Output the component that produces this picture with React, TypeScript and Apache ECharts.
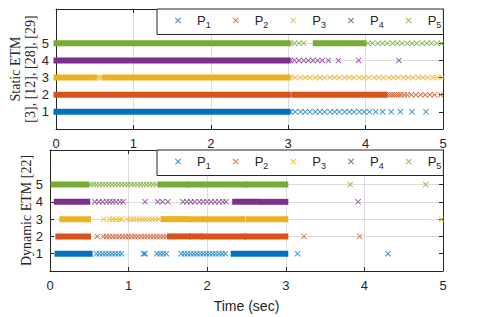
import React, { useEffect, useRef } from "react";
import * as echarts from "echarts";

// ---- Data ----
const agentNames = ["P1", "P2", "P3", "P4", "P5"];
const agentColors = ["#0072BD", "#D95319", "#EDB120", "#7E2F8E", "#77AC30"];
const timeTicks = [0, 1, 2, 3, 4, 5];
const agentTicks = [1, 2, 3, 4, 5];

// Static ETM: dense trigger bursts [start, end] and individual trigger instants (sec)
const staticP1Bands = [[0, 3.0]];
const staticP1Marks = [3.03, 3.09, 3.16, 3.22, 3.28, 3.35, 3.41, 3.47, 3.54, 3.6, 3.66, 3.73, 3.79, 3.85, 3.92, 3.98, 4.05, 4.13, 4.22, 4.33, 4.45, 4.6, 4.78];
const staticP2Bands = [[0, 3.0], [3.08, 4.25]];
const staticP2Marks = [3.02, 3.05, 4.28, 4.31, 4.34, 4.37, 4.4, 4.43, 4.46, 4.5, 4.54, 4.59, 4.65, 4.71, 4.77, 4.83, 4.89, 4.97];
const staticP3Bands = [[0, 0.5], [0.63, 3.0]];
const staticP3Marks = [0.53, 0.57, 0.6, 3.03, 3.09, 3.16, 3.22, 3.28, 3.35, 3.41, 3.47, 3.54, 3.6, 3.66, 3.73, 3.79, 3.85, 3.92, 3.98, 4.04, 4.11, 4.17, 4.23, 4.3, 4.36, 4.42, 4.49, 4.55, 4.61, 4.68, 4.74, 4.8, 4.87, 4.93, 4.99];
const staticP4Bands = [[0, 3.0]];
const staticP4Marks = [3.03, 3.08, 3.14, 3.2, 3.26, 3.32, 3.38, 3.44, 3.52, 3.65, 3.91, 4.43];
const staticP5Bands = [[0, 3.0], [3.35, 3.98]];
const staticP5Marks = [3.03, 3.08, 3.14, 3.2, 4.03, 4.09, 4.16, 4.22, 4.28, 4.35, 4.41, 4.47, 4.54, 4.6, 4.66, 4.73, 4.79, 4.85, 4.92, 4.98];

// Dynamic ETM
const dynamicP1Bands = [[0.09, 0.51], [2.33, 3.0]];
const dynamicP1Marks = [0.59, 0.63, 0.67, 0.71, 0.75, 0.79, 0.83, 0.87, 0.91, 1.19, 1.21, 1.36, 1.4, 1.44, 1.48, 1.67, 1.71, 1.75, 1.79, 1.83, 1.87, 1.91, 1.95, 1.99, 2.03, 2.07, 2.11, 2.15, 2.19, 2.23, 3.15, 4.3];
const dynamicP2Bands = [[0.1, 0.49], [1.52, 1.76], [1.8, 1.91], [1.95, 2.46], [2.5, 3.0]];
const dynamicP2Marks = [0.6, 0.68, 0.72, 0.76, 0.8, 0.84, 0.88, 0.92, 0.96, 1.0, 1.04, 1.08, 1.12, 1.16, 1.2, 1.24, 1.28, 1.32, 1.36, 1.4, 1.44, 1.48, 3.23, 3.94];
const dynamicP3Bands = [[0.15, 0.49], [1.44, 1.73], [1.78, 2.45], [2.52, 3.0]];
const dynamicP3Marks = [0.68, 0.76, 0.8, 0.84, 0.88, 0.91, 0.98, 1.02, 1.06, 1.1, 1.14, 1.18, 1.22, 1.26, 1.3, 1.34, 1.38, 4.98];
const dynamicP4Bands = [[0.08, 0.48], [2.35, 2.64], [2.69, 3.0]];
const dynamicP4Marks = [0.57, 0.62, 0.67, 0.72, 0.76, 0.8, 0.84, 0.89, 0.93, 1.21, 1.37, 1.43, 1.5, 1.69, 1.74, 1.79, 1.84, 1.9, 1.95, 2.0, 2.05, 2.1, 2.15, 2.2, 2.24, 3.92];
const dynamicP5Bands = [[0.04, 0.47], [1.4, 1.74], [1.78, 1.93], [1.97, 2.48], [2.52, 3.0]];
const dynamicP5Marks = [0.51, 0.55, 0.59, 0.63, 0.67, 0.71, 0.75, 0.79, 0.83, 0.87, 0.91, 0.95, 0.99, 1.03, 1.07, 1.11, 1.15, 1.19, 1.23, 1.27, 1.31, 1.35, 3.82, 4.78];

const staticBands = [staticP1Bands, staticP2Bands, staticP3Bands, staticP4Bands, staticP5Bands];
const staticMarks = [staticP1Marks, staticP2Marks, staticP3Marks, staticP4Marks, staticP5Marks];
const dynamicBands = [dynamicP1Bands, dynamicP2Bands, dynamicP3Bands, dynamicP4Bands, dynamicP5Bands];
const dynamicMarks = [dynamicP1Marks, dynamicP2Marks, dynamicP3Marks, dynamicP4Marks, dynamicP5Marks];

const topTitle = "Static ETM\n[3], [12], [28], [29]";
const bottomTitle = "Dynamic ETM [22]";
const xTitle = "Time (sec)";

// ---- Styling ----
const X_PATH = "path://M0,1.1L1.1,0L10,8.9L8.9,10ZM8.9,0L10,1.1L1.1,10L0,8.9Z";
const AX = "#262626";
const GRIDC = "#dcdcdc";
const SANS = "Liberation Sans";
const SERIF = "Liberation Serif";

function xAxes(gridIndex: number, withName: boolean) {
  const common = {
    type: "value",
    gridIndex,
    min: timeTicks[0],
    max: timeTicks[timeTicks.length - 1],
    interval: 1,
    axisLine: { show: true, onZero: false, lineStyle: { color: AX, width: 1 } },
    axisTick: { show: true, inside: true, length: 4, lineStyle: { color: AX } },
  };
  return [
    {
      ...common,
      position: "bottom",
      axisLabel: { show: true, margin: 8, fontSize: 13, fontFamily: SANS, color: AX },
      splitLine: { show: true, lineStyle: { color: GRIDC, width: 1 } },
      name: withName ? xTitle : "",
      nameLocation: "middle",
      nameGap: 28,
      nameMoveOverlap: false,
      nameTextStyle: { fontSize: 14, fontFamily: SANS, color: AX },
    },
    {
      ...common,
      position: "top",
      axisLabel: { show: false },
      splitLine: { show: false },
    },
  ];
}

function yAxes(gridIndex: number, title: string, gap: number) {
  const common = {
    type: "value",
    gridIndex,
    min: 0,
    max: 7,
    interval: 1,
    axisLine: { show: true, onZero: false, lineStyle: { color: AX, width: 1 } },
    axisTick: { show: true, inside: true, length: 4, customValues: agentTicks, lineStyle: { color: AX } },
  };
  return [
    {
      ...common,
      position: "left",
      axisLabel: { show: true, margin: 7, fontSize: 13, fontFamily: SANS, color: AX, customValues: agentTicks },
      splitLine: {
        show: true,
        lineStyle: { color: ["transparent", GRIDC, GRIDC, GRIDC, GRIDC, GRIDC, "transparent", "transparent"], width: 1 },
      },
      name: title,
      nameLocation: "middle",
      nameRotate: 90,
      nameGap: gap,
      nameMoveOverlap: false,
      nameTextStyle: { fontSize: 14, fontFamily: SERIF, color: AX, lineHeight: 15 },
    },
    {
      ...common,
      position: "right",
      axisLabel: { show: false },
      splitLine: { show: false },
    },
  ];
}

function plotSeries(bands: number[][][], marks: number[][], xIdx: number, yIdx: number) {
  const out: any[] = [];
  agentNames.forEach((name, i) => {
    const color = agentColors[i];
    out.push({
      type: "custom",
      xAxisIndex: xIdx,
      yAxisIndex: yIdx,
      clip: false,
      silent: true,
      encode: { x: [0, 1], y: 2 },
      data: bands[i].map(([s, e]) => [s, e, i + 1]),
      renderItem: (_p: any, api: any) => {
        const a = api.coord([api.value(0), api.value(2)]);
        const b = api.coord([api.value(1), api.value(2)]);
        return {
          type: "rect",
          shape: { x: a[0] - 2.5, y: a[1] - 3, width: b[0] - a[0] + 5, height: 6 },
          style: { fill: color },
        };
      },
    });
    out.push({
      type: "scatter",
      name,
      xAxisIndex: xIdx,
      yAxisIndex: yIdx,
      clip: false,
      symbol: X_PATH,
      symbolSize: 6,
      itemStyle: { color },
      data: marks[i].map((t) => [t, i + 1]),
    });
  });
  return out;
}

function legendAt(top: number) {
  return {
    top,
    left: 157,
    orient: "horizontal",
    backgroundColor: "#ffffff",
    borderColor: AX,
    borderWidth: 1,
    borderRadius: 0,
    padding: [5, 2, 5, 18],
    itemGap: 22,
    itemWidth: 28,
    itemHeight: 6,
    selectedMode: false,
    data: agentNames.map((n) => ({ name: n, icon: X_PATH })),
    formatter: (n: string) => `{p|P}{s|${n.slice(1)}}`,
    textStyle: {
      color: AX,
      rich: {
        p: { fontSize: 13, fontFamily: SANS, color: AX },
        s: { fontSize: 9, fontFamily: SANS, color: AX, padding: [9, 0, 0, 0] },
      },
    },
  };
}

export default function App() {
  const ref = useRef<HTMLDivElement>(null);
  useEffect(() => {
    document.body.style.margin = "0";
    if (!ref.current) return;
    const chart = echarts.init(ref.current, undefined, { renderer: "svg" });
    const option: any = {
      animation: false,
      backgroundColor: "#ffffff",
      grid: [
        { left: 50, top: 9, width: 393, height: 120, show: false },
        { left: 50, top: 150, width: 393, height: 121, show: false },
      ],
      xAxis: [...xAxes(0, false), ...xAxes(1, true)],
      yAxis: [...yAxes(0, topTitle, 18), ...yAxes(1, bottomTitle, 16)],
      legend: [legendAt(9), legendAt(150)],
      series: [
        ...plotSeries(staticBands, staticMarks, 0, 0),
        ...plotSeries(dynamicBands, dynamicMarks, 2, 2),
      ],
    };
    chart.setOption(option);
    return () => chart.dispose();
  }, []);
  return <div ref={ref} style={{ width: 478, height: 317 }} />;
}
